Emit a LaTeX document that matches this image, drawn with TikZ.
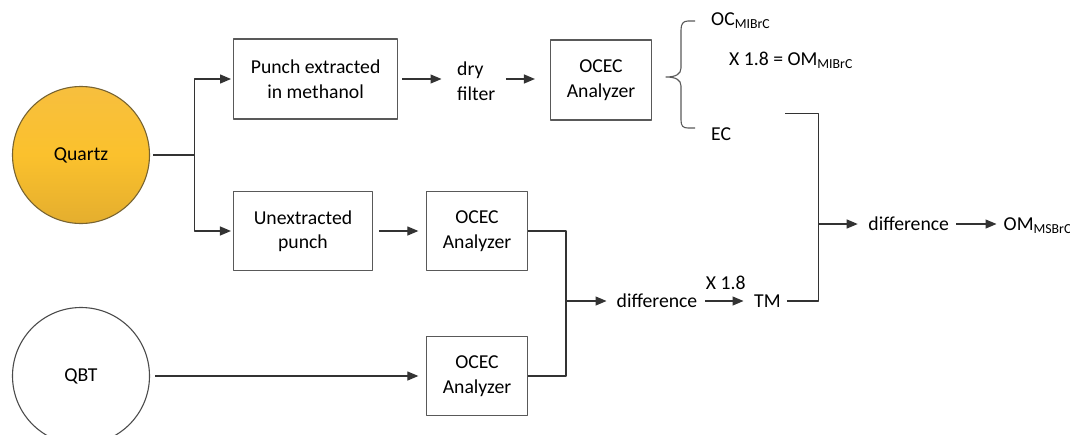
\documentclass[tikz,border=0pt]{standalone}
\usepackage{fontspec}
\setmainfont{Carlito}
\usetikzlibrary{arrows.meta}
\definecolor{quartztop}{RGB}{247,191,62}
\definecolor{quartzmid}{RGB}{251,193,45}
\definecolor{quartzbot}{RGB}{228,174,46}
\definecolor{quartzrim}{RGB}{120,100,50}
\begin{document}
\begin{tikzpicture}[x=1pt, y=-1pt, font=\fontsize{19.7}{24.5}\selectfont, line join=round, >={Triangle[length=11pt,width=9pt]},
	box/.style={draw=black!65, line width=1.1pt, align=center, inner sep=0pt, minimum width=101pt, minimum height=79pt},
	blob/.style={circle, draw=black!70, line width=1.1pt, minimum size=137pt, inner sep=0pt},
	txt/.style={inner sep=0pt, align=left},
	line/.style={draw=black!80, line width=1.2pt},
	arr/.style={line, ->}]
	\useasboundingbox (0,0) rectangle (1070,434);
	\node[blob, draw=quartzrim, top color=quartztop, bottom color=quartzbot, middle color=quartzmid] (quartz) at (81,155) {Quartz};
	\node[blob] (qbt) at (81,376) {QBT};
	\node[box, minimum width=164pt, minimum height=80pt] (punch) at (315.6,79) {Punch extracted\\in methanol};
	\node[box, minimum width=139pt] (unext) at (303,231) {Unextracted\\punch};
	\node[txt, anchor=west] (dry) at (457,81) {dry\\filter};
	\node[box, minimum height=80pt] (ocecA) at (601,80) {OCEC\\Analyzer};
	\node[box] (ocecB) at (477,231) {OCEC\\Analyzer};
	\node[box] (ocecC) at (477,376) {OCEC\\Analyzer};
	\node[txt, anchor=base west] (ocmi) at (711,25.5) {OC\textsubscript{MIBrC}};
	\node[txt, anchor=base west] (ommi) at (729,65) {X 1.8 = OM\textsubscript{MIBrC}};
	\node[txt, anchor=base west] (ec) at (711,140.5) {EC};
	\node[txt] (diffA) at (657,301) {difference};
	\node[txt, anchor=base west] (tm) at (754,307.5) {TM};
	\node[txt] (diffB) at (908.7,224) {difference};
	\node[txt, anchor=base west] (omms) at (1003.5,230.5) {OM\textsubscript{MSBrC}};
	\coordinate (split) at (194.6,155);
	\coordinate (diffsplit) at (566,301);
	\coordinate (ecout) at (785,113.6);
	\coordinate (merge) at (818.6,224);
	% quartz branch
	\draw[line, shorten <=3pt] (quartz.east) -- (split);
	\draw[arr, shorten >=2pt] (split) |- (punch.west);
	\draw[arr, shorten >=2pt] (split) |- (unext.west);
	\draw[arr, shorten <=4.3pt, shorten >=15.5pt] (punch.east) -- (punch.east -| dry.west);
	\draw[arr, shorten <=10.5pt, shorten >=15pt] (punch.east -| dry.east) -- (punch.east -| ocecA.west);
	\draw[arr, shorten <=6pt, shorten >=7.6pt] (unext) -- (ocecB);
	\draw[arr, shorten <=5pt, shorten >=7.6pt] (qbt) -- (ocecC);
	% brace on the analyzer output
	\draw[draw=black!65, line width=1.1pt] (695,21) -- (688,21) .. controls (683,21) and (681,24) .. (681,30) -- (681,68)
		.. controls (681,74) and (676,77) .. (666,77) .. controls (676,77) and (681,80) .. (681,86)
		-- (681,120) .. controls (681,126) and (683,128) .. (688,128) -- (695,128);
	% differences
	\draw[line] (ocecB.east) -| (diffsplit);
	\draw[line] (ocecC.east) -| (diffsplit);
	\draw[arr, shorten >=10pt] (diffsplit) -- (diffA);
	\draw[arr, shorten <=7.6pt, shorten >=10.5pt] (diffA.east) -- (diffA.east -| tm.west) node[midway, above=11pt, txt] (factor) {X 1.8};
	\draw[line] (ecout) -| (merge);
	\draw[line, shorten <=6pt] (diffA.east -| tm.east) -| (merge);
	\draw[arr, shorten >=10.5pt] (merge) -- (diffB);
	\draw[arr, shorten <=7pt, shorten >=7pt] (diffB.east) -- (diffB.east -| omms.west);
\end{tikzpicture}
\end{document}
